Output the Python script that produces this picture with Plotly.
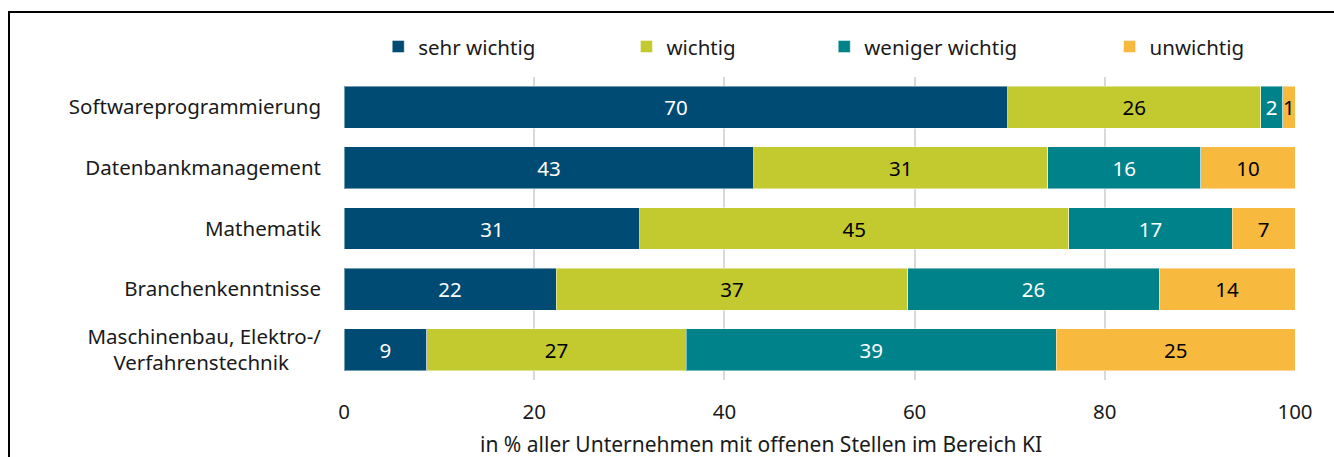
import plotly.graph_objects as go

categories = ["Softwareprogrammierung", "Datenbankmanagement", "Mathematik",
              "Branchenkenntnisse",
              "Maschinenbau, Elektro-/<br>Verfahrenstechnik\u00a0\u00a0\u00a0\u00a0\u00a0\u00a0"]
series_names = ["sehr wichtig", "wichtig", "weniger wichtig", "unwichtig"]
sehr_wichtig = [69.8, 43.1, 31.1, 22.3, 8.7]
wichtig = [26.6, 30.9, 45.1, 37.0, 27.3]
weniger_wichtig = [2.3, 16.1, 17.2, 26.4, 38.9]
unwichtig = [1.3, 9.9, 6.6, 14.3, 25.1]
labels_sehr = ["70", "43", "31", "22", "9"]
labels_wichtig = ["26", "31", "45", "37", "27"]
labels_weniger = ["2", "16", "17", "26", "39"]
labels_unwichtig = ["1", "10", "7", "14", "25"]
colors = ["#004B73", "#C3CA2F", "#00828A", "#F7B93E"]
text_colors = ["white", "black", "white", "black"]
x_ticks = [0, 20, 40, 60, 80, 100]
x_title = "in % aller Unternehmen mit offenen Stellen im Bereich KI"

values = [sehr_wichtig, wichtig, weniger_wichtig, unwichtig]
labels = [labels_sehr, labels_wichtig, labels_weniger, labels_unwichtig]
legend_ids = ["legend", "legend2", "legend3", "legend4"]

FONT = "Noto Sans"
FS = 20.5
TXT = "#1a1a1a"
fig = go.Figure()
for name, vals, lab, col, tcol, lid in zip(series_names, values, labels, colors, text_colors, legend_ids):
    fig.add_trace(go.Bar(
        y=categories, x=vals, name=name, orientation="h",
        marker=dict(color=col, line=dict(color="rgba(255,255,255,0.45)", width=1)),
        text=lab, textposition="inside", insidetextanchor="middle",
        textangle=0, constraintext="none",
        textfont=dict(color=tcol, size=FS, family=FONT),
        legend=lid, showlegend=True, hoverinfo="x+y+name",
    ))

legend_x = [0.036, 0.297, 0.505, 0.805]
legend_common = dict(orientation="h", xanchor="left", yanchor="middle", y=1.10,
                     font=dict(size=FS, family=FONT, color=TXT),
                     bgcolor="rgba(0,0,0,0)", itemclick=False, itemdoubleclick=False)

fig.update_layout(
    showlegend=True,
    barmode="stack",
    bargap=0.31,
    width=1334, height=457,
    margin=dict(l=344, r=39, t=77, b=77, autoexpand=False),
    paper_bgcolor="white", plot_bgcolor="white",
    font=dict(family=FONT, size=FS, color=TXT),
    legend=dict(x=legend_x[0], **legend_common),
    legend2=dict(x=legend_x[1], **legend_common),
    legend3=dict(x=legend_x[2], **legend_common),
    legend4=dict(x=legend_x[3], **legend_common),
    xaxis=dict(range=[0, 100], tickvals=x_ticks, showgrid=True, gridcolor="#D9D9D9",
               gridwidth=1.5, zeroline=False, showline=False, ticks="",
               ticklabelstandoff=17, tickfont=dict(size=FS, family=FONT, color=TXT),
               automargin=False, fixedrange=True),
    yaxis=dict(autorange="reversed", showgrid=False, showline=False, ticks="",
               ticklabelstandoff=22, tickfont=dict(size=FS, family=FONT, color=TXT),
               automargin=False, fixedrange=True),
    annotations=[dict(text=x_title, xref="paper", yref="paper", x=0.4385, y=-0.211,
                      xanchor="center", yanchor="middle", showarrow=False,
                      font=dict(size=21, family=FONT, color=TXT))],
    shapes=[dict(type="rect", xref="paper", yref="paper",
                 x0=(9 - 344) / 951, x1=1.2, y0=-0.6, y1=1 + (77 - 12) / 303,
                 line=dict(color="black", width=2), fillcolor="rgba(0,0,0,0)", layer="above")],
)

fig.write_html("out.html", config={"displayModeBar": False},
               post_script="document.body.style.margin='0';")
